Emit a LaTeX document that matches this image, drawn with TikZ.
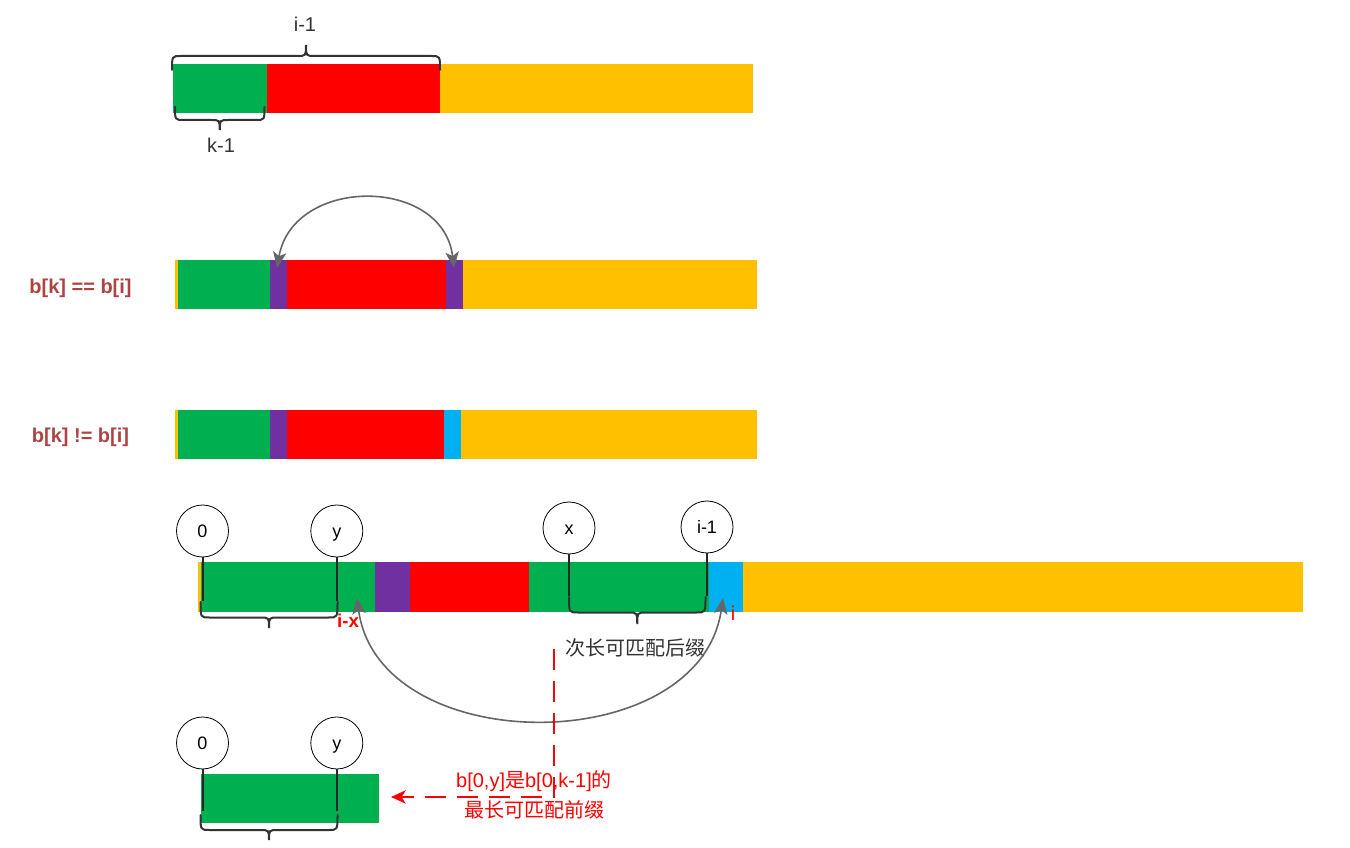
\documentclass[tikz,border=0pt]{standalone}
\usepackage{fontspec}
\setmainfont{Liberation Sans}
\newfontfamily\cjk{Noto Sans CJK SC}
\usetikzlibrary{arrows.meta}
\definecolor{cgreen}{HTML}{00B050}
\definecolor{cred}{HTML}{FF0000}
\definecolor{corange}{HTML}{FFC000}
\definecolor{cpurple}{HTML}{7030A0}
\definecolor{ccyan}{HTML}{00B0F0}
\definecolor{labred}{HTML}{AD4444}
\definecolor{darktext}{HTML}{333333}
\definecolor{arcgray}{HTML}{666666}
\newcommand\mybrace[5]{%
  \draw[brc] (#1,#3) .. controls (#1,#4) .. ({#1+9},#4) -- ({(#1+#2)/2-9},#4)
    .. controls ({(#1+#2)/2},#4) .. ({(#1+#2)/2},#5)
    .. controls ({(#1+#2)/2},#4) .. ({(#1+#2)/2+9},#4) -- ({#2-9},#4)
    .. controls (#2,#4) .. (#2,#3);}
\begin{document}
\begin{tikzpicture}[x=0.75pt,y=-0.75pt,
  brc/.style={draw=darktext, line width=1.5pt, line cap=round},
  ptr/.style={draw=black, circle, minimum size=39pt, inner sep=0pt, line width=0.6pt,
    font=\fontsize{13.5}{15}\selectfont, text height=9.5pt, text depth=0pt},
  vline/.style={draw=black!85, line width=1.5pt},
  garc/.style={draw=arcgray, line width=1.2pt,
    {Stealth[length=12pt,width=10pt,inset=3pt]}-{Stealth[length=12pt,width=10pt,inset=3pt]}},
  lbl/.style={font=\fontsize{15}{18}\selectfont\bfseries, text=labred},
  toplbl/.style={font=\fontsize{15}{18}\selectfont, text=darktext},
  redlbl/.style={font=\fontsize{15}{17}\selectfont, text=cred},
  reddash/.style={draw=cred, line width=1.5pt, dash pattern=on 15.75pt off 8.25pt,
    -{Stealth[length=11pt,width=10pt,inset=3pt]}}
]
\useasboundingbox (0,0) rectangle (1350,848);

% ---------- Row 1 ----------
\fill[cgreen] (173,64) rectangle (266.5,113);
\fill[cred] (266.5,64) rectangle (440,113);
\fill[corange] (440,64) rectangle (752.5,113);
\mybrace{172}{440}{70}{56}{45}
\mybrace{175}{264.5}{107}{120}{130}
\node[toplbl] (li1) at (305,24) {i-1};
\node[toplbl] (lk1) at (221,145) {k-1};

% ---------- Row 2 ----------
\fill[corange] (175,260) rectangle (177.5,309);
\fill[cgreen] (177.5,260) rectangle (269.5,309);
\fill[cpurple] (269.5,260) rectangle (287.4,309);
\fill[cred] (287.4,260) rectangle (445.5,309);
\fill[cpurple] (445.5,260) rectangle (463.4,309);
\fill[corange] (463.4,260) rectangle (757,309);
\node[lbl] (leq) at (80.5,288) {b[k] == b[i]};
\coordinate (a2l) at (277,268);
\coordinate (a2r) at (454,268);
\draw[garc] (a2l) .. controls (293,176) and (443,176) .. (a2r);

% ---------- Row 3 ----------
\fill[corange] (175,410) rectangle (177.5,459);
\fill[cgreen] (177.5,410) rectangle (269.5,459);
\fill[cpurple] (269.5,410) rectangle (287.4,459);
\fill[cred] (287.4,410) rectangle (443.5,459);
\fill[ccyan] (443.5,410) rectangle (461.4,459);
\fill[corange] (461.4,410) rectangle (757,459);
\node[lbl] (lneq) at (80.5,437) {b[k] != b[i]};

% ---------- Row 4 ----------
\fill[corange] (198.3,562) rectangle (201,611.7);
\fill[cgreen] (201,562) rectangle (375,611.7);
\fill[cpurple] (375,562) rectangle (409.5,611.7);
\fill[cred] (409.5,562) rectangle (529,611.7);
\fill[cgreen] (529,562) rectangle (709,611.7);
\fill[ccyan] (709,562) rectangle (743,611.7);
\fill[corange] (743,562) rectangle (1303,611.7);

\node[ptr] (r4c0) at (202.5,531) {0};
\node[ptr] (r4cy) at (336.8,531) {y};
\node[ptr] (r4cx) at (569,528) {x};
\node[ptr] (r4ci) at (707,527) {i-1};
\coordinate (r4l0) at (202.5,601);
\coordinate (r4ly) at (336.8,601);
\coordinate (r4lx) at (569,596);
\coordinate (r4li) at (707,596);
\draw[vline] (r4c0.south) -- (r4l0);
\draw[vline] (r4cy.south) -- (r4ly);
\draw[vline] (r4cx.south) -- (r4lx);
\draw[vline] (r4ci.south) -- (r4li);
\mybrace{200.5}{337.5}{602}{617.5}{628}
\mybrace{569}{705.5}{597}{612.5}{624}

\node[text=cred, font=\fontsize{14}{16}\selectfont\bfseries] (lix) at (348,621) {i-x};
\node[redlbl] (li) at (733,613) {i};
\node[font=\fontsize{15}{18}\selectfont\cjk, text=darktext] (lsuf) at (635,648) {次长可匹配后缀};

\coordinate (a4l) at (357,598);
\coordinate (a4r) at (723,598);
\draw[garc] (a4l) .. controls (378,760) and (700,760) .. (a4r);

% ---------- Row 5 ----------
\fill[cgreen] (201,774) rectangle (378.5,823);
\node[ptr] (r5c0) at (202.5,743) {0};
\node[ptr] (r5cy) at (336.8,743) {y};
\coordinate (r5l0) at (202.5,811);
\coordinate (r5ly) at (336.8,811);
\draw[vline] (r5c0.south) -- (r5l0);
\draw[vline] (r5cy.south) -- (r5ly);
\mybrace{200.5}{337.5}{815}{830}{840}

% ---------- red dashed pointer ----------
\coordinate (dtop) at (554,649);
\coordinate (dcorner) at (554,797);
\coordinate (dend) at (391,797);
\draw[reddash] (dtop) -- (dcorner) -- (dend);
\node[align=center, text=cred, font=\fontsize{15}{22.5}\selectfont] (lpre) at (534,795)
  {b[0,y]{\cjk 是}b[0,k-1]{\cjk 的}\\{\cjk 最长可匹配前缀}};
\end{tikzpicture}
\end{document}
